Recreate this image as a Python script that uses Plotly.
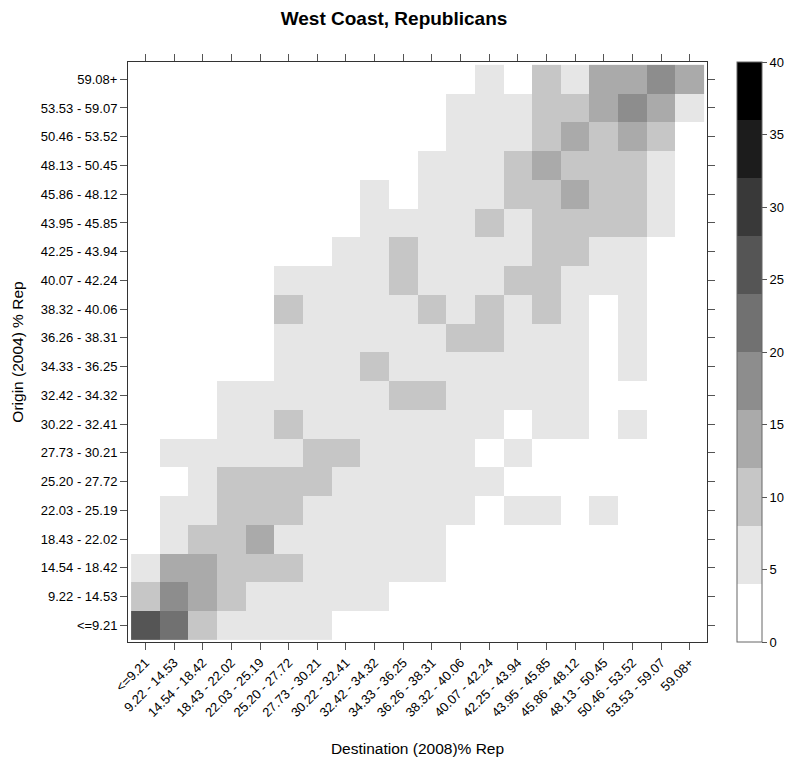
import plotly.graph_objects as go

bins = ["<=9.21", "9.22 - 14.53", "14.54 - 18.42", "18.43 - 22.02", "22.03 - 25.19",
        "25.20 - 27.72", "27.73 - 30.21", "30.22 - 32.41", "32.42 - 34.32", "34.33 - 36.25",
        "36.26 - 38.31", "38.32 - 40.06", "40.07 - 42.24", "42.25 - 43.94", "43.95 - 45.85",
        "45.86 - 48.12", "48.13 - 50.45", "50.46 - 53.52", "53.53 - 59.07", "59.08+"]

# counts: rows = origin bins (bottom to top), columns = destination bins (left to right)
counts = [
    [26, 22, 10, 6, 6, 6, 6, 0, 0, 0, 0, 0, 0, 0, 0, 0, 0, 0, 0, 0],
    [10, 18, 14, 10, 6, 6, 6, 6, 6, 0, 0, 0, 0, 0, 0, 0, 0, 0, 0, 0],
    [6, 14, 14, 10, 10, 10, 6, 6, 6, 6, 6, 0, 0, 0, 0, 0, 0, 0, 0, 0],
    [0, 6, 10, 10, 14, 6, 6, 6, 6, 6, 6, 0, 0, 0, 0, 0, 0, 0, 0, 0],
    [0, 6, 6, 10, 10, 10, 6, 6, 6, 6, 6, 6, 0, 6, 6, 0, 6, 0, 0, 0],
    [0, 0, 6, 10, 10, 10, 10, 6, 6, 6, 6, 6, 6, 0, 0, 0, 0, 0, 0, 0],
    [0, 6, 6, 6, 6, 6, 10, 10, 6, 6, 6, 6, 0, 6, 0, 0, 0, 0, 0, 0],
    [0, 0, 0, 6, 6, 10, 6, 6, 6, 6, 6, 6, 6, 0, 6, 6, 0, 6, 0, 0],
    [0, 0, 0, 6, 6, 6, 6, 6, 6, 10, 10, 6, 6, 6, 6, 6, 0, 0, 0, 0],
    [0, 0, 0, 0, 0, 6, 6, 6, 10, 6, 6, 6, 6, 6, 6, 6, 0, 6, 0, 0],
    [0, 0, 0, 0, 0, 6, 6, 6, 6, 6, 6, 10, 10, 6, 6, 6, 0, 6, 0, 0],
    [0, 0, 0, 0, 0, 10, 6, 6, 6, 6, 10, 6, 10, 6, 10, 6, 0, 6, 0, 0],
    [0, 0, 0, 0, 0, 6, 6, 6, 6, 10, 6, 6, 6, 10, 10, 6, 6, 6, 0, 0],
    [0, 0, 0, 0, 0, 0, 0, 6, 6, 10, 6, 6, 6, 6, 10, 10, 6, 6, 0, 0],
    [0, 0, 0, 0, 0, 0, 0, 0, 6, 6, 6, 6, 10, 6, 10, 10, 10, 10, 6, 0],
    [0, 0, 0, 0, 0, 0, 0, 0, 6, 0, 6, 6, 6, 10, 10, 14, 10, 10, 6, 0],
    [0, 0, 0, 0, 0, 0, 0, 0, 0, 0, 6, 6, 6, 10, 14, 10, 10, 10, 6, 0],
    [0, 0, 0, 0, 0, 0, 0, 0, 0, 0, 0, 6, 6, 6, 10, 14, 10, 14, 10, 0],
    [0, 0, 0, 0, 0, 0, 0, 0, 0, 0, 0, 6, 6, 6, 10, 10, 14, 18, 14, 6],
    [0, 0, 0, 0, 0, 0, 0, 0, 0, 0, 0, 0, 6, 0, 10, 6, 14, 14, 18, 14],
]

level_colors = ["#ffffff", "#e6e6e6", "#c6c6c6", "#aaaaaa", "#8d8d8d",
                "#717171", "#555555", "#393939", "#1c1c1c", "#000000"]
cbar_ticks = [0, 5, 10, 15, 20, 25, 30, 35, 40]

# discrete colorscale: 10 equal bins over 0..40
colorscale = []
n = len(level_colors)
for i, c in enumerate(level_colors):
    colorscale.append([i / n, c])
    colorscale.append([(i + 1) / n, c])

idx = list(range(len(bins)))
FONT = "Liberation Sans, Arial, sans-serif"

fig = go.Figure(go.Heatmap(
    z=counts, x=idx, y=idx,
    colorscale=colorscale, zmin=0, zmax=40,
    colorbar=dict(
        x=1.0518, xanchor="left", xref="paper", xpad=0,
        y=0.5, yanchor="middle",
        thickness=25, thicknessmode="pixels",
        len=580, lenmode="pixels", ypad=0,
        outlinewidth=1, outlinecolor="#666666",
        tickvals=cbar_ticks, ticks="outside", ticklen=5, tickcolor="#555555",
        tickfont=dict(family=FONT, size=13, color="#000000"),
    ),
    showscale=True,
))

axis_common = dict(
    showline=True, linecolor="#333333", linewidth=1, mirror="ticks",
    ticks="outside", ticklen=7, tickcolor="#555555",
    showgrid=False, zeroline=False,
    tickfont=dict(family=FONT, size=13, color="#000000"),
)

fig.update_layout(
    width=788, height=763,
    margin=dict(l=128, r=81, t=62, b=121, autoexpand=False),
    paper_bgcolor="white", plot_bgcolor="white",
    title=dict(text="<b>West Coast, Republicans</b>", x=0.5, xref="container", xanchor="center",
               y=1 - 18.5 / 763, yref="container", yanchor="middle",
               font=dict(family=FONT, size=19, color="#000000")),
    xaxis=dict(range=[-0.608, 19.6], tickvals=idx, ticktext=bins, tickangle=-45,
               title=dict(text="Destination (2008)% Rep", standoff=24,
                          font=dict(family=FONT, size=15.5, color="#000000")),
               **axis_common),
    yaxis=dict(range=[-0.58, 19.6], tickvals=idx, ticktext=bins,
               title=dict(text="Origin (2004) % Rep", standoff=13,
                          font=dict(family=FONT, size=15.5, color="#000000")),
               **axis_common),
)

fig.write_html("out.html")
